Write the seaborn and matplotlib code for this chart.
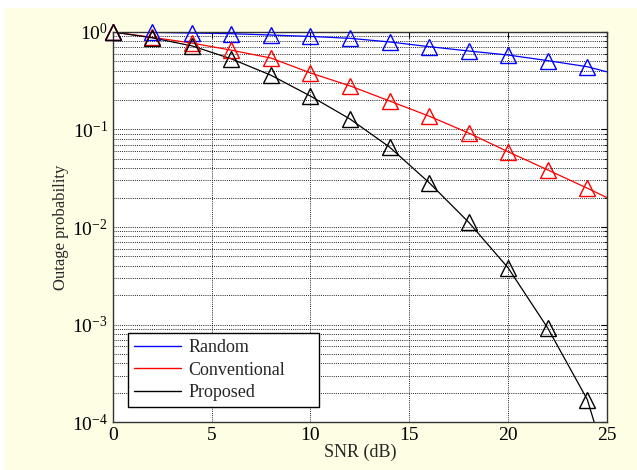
import numpy as np
import pandas as pd
import seaborn as sns
import matplotlib
matplotlib.use("Agg")
import matplotlib.pyplot as plt
from matplotlib.lines import Line2D
from matplotlib.patches import Rectangle
from matplotlib.ticker import LogLocator, NullFormatter

snr = [0, 2, 4, 6, 8, 10, 12, 14, 16, 18, 20, 22, 24, 25]
random_p = [1.0, 0.99, 0.975, 0.96, 0.93, 0.90, 0.86, 0.79, 0.707, 0.638, 0.58, 0.508, 0.44, 0.39]
conventional_p = [1.0, 0.88, 0.77, 0.65, 0.54, 0.38, 0.28, 0.196, 0.137, 0.092, 0.059, 0.0385, 0.025, 0.020]
proposed_p = [1.0, 0.87, 0.72, 0.53, 0.36, 0.22, 0.128, 0.066, 0.0285, 0.0112, 0.0038, 0.00092, 0.00017, 0.000037]
series = ["Random", "Conventional", "Proposed"]
colors = ["#0000ff", "#ff0000", "#000000"]
n_markers = 13

sns.set_style("white")
plt.rcParams["font.family"] = ["Liberation Serif", "DejaVu Serif"]
plt.rcParams["mathtext.fontset"] = "custom"
plt.rcParams["mathtext.rm"] = "Liberation Serif"
plt.rcParams["mathtext.it"] = "Liberation Serif:italic"

bg = "#fefee4"
fig = plt.figure(figsize=(6.37, 4.70), dpi=100, facecolor="white")
fig.patches.append(Rectangle((5 / 637, 0), 1, 1 - 8 / 470, transform=fig.transFigure,
                             facecolor=bg, edgecolor="none", zorder=-10))
ax = fig.add_axes([0.177, 0.102, 0.776, 0.830])
ax.set_facecolor("white")

df = pd.DataFrame({
    "snr": snr * 3,
    "p": random_p + conventional_p + proposed_p,
    "scheme": [s for s in series for _ in snr],
})

for name, col in zip(series, colors):
    sub = df[df["scheme"] == name]
    sns.lineplot(data=sub, x="snr", y="p", ax=ax, color=col, linewidth=0.9,
                 legend=False)
    subm = sub.iloc[:n_markers]
    sns.lineplot(data=subm, x="snr", y="p", ax=ax, color=col, linestyle="none",
                 marker="^", markersize=11, markerfacecolor="none",
                 markeredgecolor=col, markeredgewidth=1.0, clip_on=False,
                 legend=False, zorder=5)

ax.set_yscale("log")
ax.set_xlim(0, 25)
ax.set_ylim(1e-4, 1)
ax.set_xticks([0, 5, 10, 15, 20, 25])
ax.yaxis.set_major_locator(LogLocator(base=10, numticks=10))
ax.yaxis.set_minor_locator(LogLocator(base=10, subs=np.arange(2, 10), numticks=50))
ax.yaxis.set_minor_formatter(NullFormatter())

ax.grid(True, which="major", axis="both", linestyle=(0, (1, 1.2)), color="#222222", linewidth=0.7)
ax.grid(True, which="minor", axis="y", linestyle=(0, (1, 1.2)), color="#222222", linewidth=0.7)

ax.tick_params(axis="both", which="both", direction="in", top=True, right=True,
               labelsize=14, colors="black")
ax.tick_params(which="major", length=4)
ax.tick_params(which="minor", length=2)
for s in ax.spines.values():
    s.set_visible(True)
    s.set_color("#333333")
    s.set_linewidth(1.0)

ax.set_xlabel("SNR (dB)", fontsize=13, labelpad=0)
ax.set_ylabel("Outage probability", fontsize=12, labelpad=2)

handles = [Line2D([0], [0], color=c, linewidth=1.0) for c in colors]
leg = ax.legend(handles, series, loc="lower left",
                bbox_to_anchor=(0.030, 0.038, 0.387, 0.19), mode="expand",
                fontsize=13, handlelength=2.6, handletextpad=0.4,
                borderpad=0.35, labelspacing=0.3, fancybox=False, framealpha=1,
                edgecolor="black", borderaxespad=0)
leg.get_frame().set_linewidth(1.0)

fig.savefig("out.png", dpi=100, facecolor="white")
